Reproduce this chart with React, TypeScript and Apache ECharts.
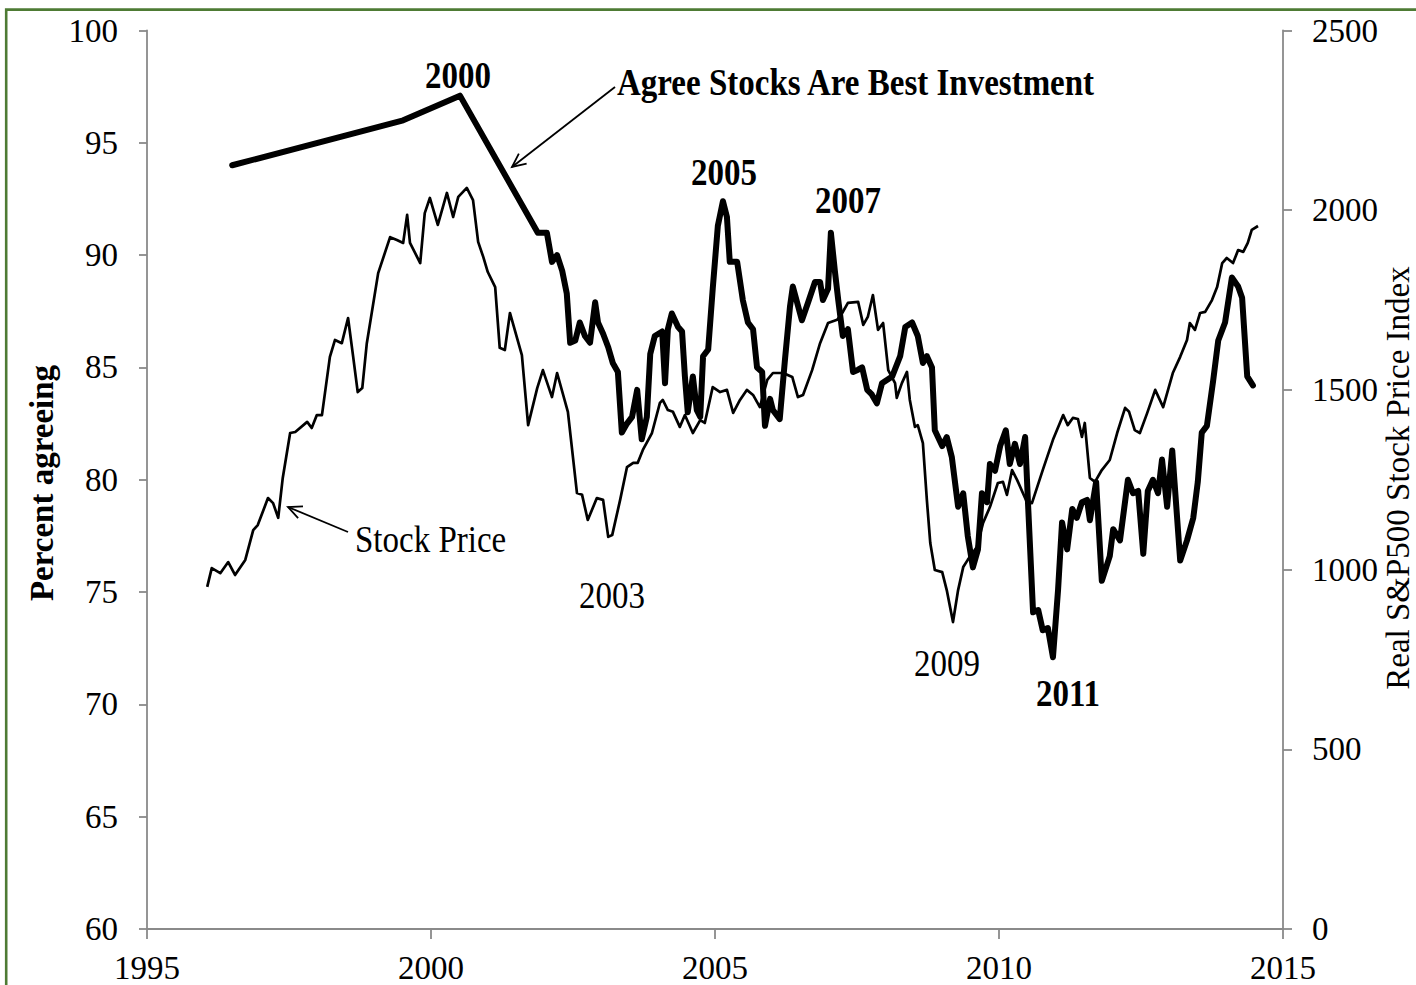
import React, { useEffect, useRef } from "react";
import * as echarts from "echarts";

// Survey: share agreeing that stocks are the best investment (left axis, %)
const agreeYears = [
  1996.5, 1999.51, 2000.51, 2001.88, 2002.04, 2002.13, 2002.22, 2002.31, 2002.39, 2002.45,
  2002.54, 2002.62, 2002.71, 2002.8, 2002.89, 2002.94, 2003.03, 2003.12, 2003.2, 2003.29,
  2003.36, 2003.45, 2003.54, 2003.63, 2003.71, 2003.8, 2003.86, 2003.94, 2004.07, 2004.12,
  2004.17, 2004.24, 2004.35, 2004.42, 2004.47, 2004.52, 2004.61, 2004.68, 2004.74, 2004.79,
  2004.88, 2004.96, 2005.05, 2005.14, 2005.21, 2005.26, 2005.39, 2005.49, 2005.58, 2005.67,
  2005.74, 2005.83, 2005.88, 2005.97, 2006.02, 2006.14, 2006.23, 2006.32, 2006.37, 2006.53,
  2006.64, 2006.76, 2006.85, 2006.9, 2006.99, 2007.04, 2007.11, 2007.17, 2007.25, 2007.34,
  2007.43, 2007.52, 2007.59, 2007.68, 2007.76, 2007.85, 2007.94, 2008.12, 2008.26, 2008.35,
  2008.47, 2008.57, 2008.66, 2008.73, 2008.82, 2008.87, 2009.0, 2009.08, 2009.17, 2009.28,
  2009.37, 2009.45, 2009.54, 2009.63, 2009.7, 2009.79, 2009.84, 2009.93, 2010.02, 2010.12,
  2010.19, 2010.28, 2010.37, 2010.46, 2010.51, 2010.6, 2010.69, 2010.77, 2010.86, 2010.95,
  2011.04, 2011.11, 2011.2, 2011.29, 2011.37, 2011.46, 2011.55, 2011.6, 2011.71, 2011.81,
  2011.95, 2012.01, 2012.13, 2012.27, 2012.36, 2012.45, 2012.54, 2012.62, 2012.71, 2012.8,
  2012.87, 2012.96, 2013.05, 2013.19, 2013.31, 2013.42, 2013.5, 2013.57, 2013.66, 2013.77,
  2013.86, 2013.98, 2014.1, 2014.21, 2014.28, 2014.37, 2014.47,
];
const agreeValues = [
  94.0, 96.0, 97.1, 91.0, 91.0, 89.7, 90.0, 89.3, 88.3, 86.1,
  86.2, 87.0, 86.4, 86.1, 87.9, 87.0, 86.5, 85.9, 85.2, 84.8,
  82.1, 82.5, 82.8, 84.0, 81.8, 82.8, 85.6, 86.4, 86.6, 84.3,
  86.7, 87.4, 86.8, 86.6, 84.6, 83.0, 84.6, 83.1, 82.8, 85.5,
  85.8, 88.5, 91.3, 92.4, 91.7, 89.7, 89.7, 88.0, 87.0, 86.7,
  85.0, 84.8, 82.4, 83.6, 83.1, 82.7, 85.3, 87.7, 88.6, 87.1,
  87.9, 88.8, 88.8, 88.0, 88.5, 91.0, 89.3, 88.0, 86.4, 86.7,
  84.8, 84.9, 85.0, 84.0, 83.8, 83.4, 84.3, 84.6, 85.5, 86.8,
  87.0, 86.4, 85.2, 85.5, 85.0, 82.2, 81.5, 81.9, 81.0, 78.8,
  79.4, 77.5, 76.1, 76.9, 79.4, 79.0, 80.7, 80.4, 81.5, 82.2,
  80.7, 81.6, 80.7, 81.9, 79.0, 74.1, 74.2, 73.3, 73.4, 72.1,
  75.1, 78.1, 76.9, 78.7, 78.3, 79.0, 79.1, 78.2, 79.9, 75.5,
  76.6, 77.8, 77.3, 80.0, 79.4, 79.5, 76.7, 79.5, 80.0, 79.4,
  80.9, 78.8, 81.3, 76.4, 77.3, 78.3, 79.9, 82.1, 82.4, 84.4,
  86.2, 87.0, 89.0, 88.6, 88.1, 84.6, 84.2,
];

// Real S&P500 stock price index (right axis)
const priceYears = [
  1996.06, 1996.14, 1996.29, 1996.43, 1996.55, 1996.73, 1996.87, 1996.95, 1997.13, 1997.22,
  1997.31, 1997.39, 1997.52, 1997.61, 1997.82, 1997.9, 1997.99, 1998.08, 1998.22, 1998.31,
  1998.43, 1998.54, 1998.63, 1998.71, 1998.79, 1998.87, 1999.07, 1999.28, 1999.4, 1999.51,
  1999.58, 1999.63, 1999.81, 1999.89, 1999.98, 2000.12, 2000.28, 2000.39, 2000.48, 2000.63,
  2000.74, 2000.83, 2000.92, 2001.0, 2001.13, 2001.21, 2001.3, 2001.39, 2001.6, 2001.71,
  2001.87, 2001.97, 2002.13, 2002.22, 2002.41, 2002.57, 2002.66, 2002.76, 2002.92, 2003.03,
  2003.12, 2003.19, 2003.33, 2003.45, 2003.56, 2003.64, 2003.73, 2003.89, 2004.03, 2004.08,
  2004.17, 2004.26, 2004.38, 2004.47, 2004.61, 2004.74, 2004.82, 2004.96, 2005.09, 2005.21,
  2005.32, 2005.44, 2005.56, 2005.67, 2005.79, 2005.92, 2006.02, 2006.2, 2006.36, 2006.46,
  2006.55, 2006.71, 2006.85, 2006.99, 2007.15, 2007.24, 2007.34, 2007.52, 2007.61, 2007.69,
  2007.78, 2007.87, 2007.96, 2008.05, 2008.17, 2008.2, 2008.29, 2008.38, 2008.43, 2008.52,
  2008.57, 2008.66, 2008.73, 2008.79, 2008.87, 2009.0, 2009.08, 2009.19, 2009.28, 2009.37,
  2009.45, 2009.61, 2009.72, 2009.84, 2009.98, 2010.07, 2010.14, 2010.23, 2010.32, 2010.49,
  2010.58, 2010.77, 2010.95, 2011.13, 2011.21, 2011.3, 2011.39, 2011.46, 2011.51, 2011.6,
  2011.69, 2011.81, 2011.95, 2012.08, 2012.22, 2012.29, 2012.39, 2012.48, 2012.61, 2012.75,
  2012.89, 2013.06, 2013.19, 2013.31, 2013.36, 2013.45, 2013.54, 2013.63, 2013.75, 2013.84,
  2013.93, 2014.01, 2014.12, 2014.21, 2014.3, 2014.38, 2014.45, 2014.56,
];
const priceValues = [
  952, 1004, 990, 1021, 985, 1027, 1110, 1124, 1199, 1185,
  1144, 1255, 1380, 1383, 1411, 1394, 1430, 1430, 1592, 1639,
  1630, 1700, 1592, 1494, 1505, 1630, 1825, 1925, 1917, 1909,
  1987, 1909, 1853, 1992, 2034, 1959, 2048, 1981, 2037, 2062,
  2028, 1912, 1870, 1828, 1786, 1617, 1611, 1714, 1597, 1402,
  1505, 1555, 1480, 1547, 1439, 1213, 1208, 1138, 1199, 1194,
  1091, 1096, 1194, 1285, 1297, 1297, 1333, 1380, 1464, 1472,
  1444, 1439, 1397, 1430, 1380, 1416, 1408, 1508, 1494, 1500,
  1436, 1472, 1500, 1486, 1452, 1528, 1547, 1547, 1536, 1480,
  1486, 1555, 1630, 1686, 1695, 1714, 1742, 1745, 1681, 1703,
  1764, 1667, 1686, 1555, 1519, 1478, 1519, 1550, 1472, 1397,
  1402, 1352, 1194, 1074, 999, 993, 943, 854, 943, 1007,
  1027, 1063, 1130, 1174, 1241, 1244, 1208, 1277, 1249, 1188,
  1185, 1277, 1361, 1430, 1402, 1422, 1419, 1369, 1408, 1255,
  1244, 1277, 1305, 1380, 1450, 1439, 1388, 1380, 1436, 1500,
  1452, 1547, 1592, 1639, 1686, 1667, 1714, 1717, 1750, 1786,
  1853, 1867, 1853, 1889, 1884, 1909, 1945, 1956,
];

const leftAxisTitle = "Percent agreeing";
const rightAxisTitle = "Real S&P500 Stock Price Index";

const SERIF = '"Liberation Serif", "Times New Roman", Times, serif';
const AXIS_GRAY = "#8a8a8a";
const STRETCH = 1.17;

function label(text: string, x: number, y: number, bold: boolean, align = "center") {
  return {
    type: "text",
    x,
    y,
    scaleY: STRETCH,
    z: 100,
    silent: true,
    style: {
      text,
      fontSize: 33,
      fontFamily: SERIF,
      fontWeight: bold ? "bold" : "normal",
      fill: "#000",
      align,
      verticalAlign: "middle",
      textAlign: align,
      textVerticalAlign: "middle",
    },
  };
}

function arrow(tip: number[], tail: number[]) {
  const dx = tail[0] - tip[0];
  const dy = tail[1] - tip[1];
  const len = Math.hypot(dx, dy);
  const ux = dx / len;
  const uy = dy / len;
  const a = (25 * Math.PI) / 180;
  const h = 15;
  const c = Math.cos(a);
  const s = Math.sin(a);
  const p1 = [tip[0] + h * (ux * c - uy * s), tip[1] + h * (ux * s + uy * c)];
  const p2 = [tip[0] + h * (ux * c + uy * s), tip[1] + h * (-ux * s + uy * c)];
  return [
    {
      type: "line",
      z: 100,
      silent: true,
      shape: { x1: tail[0], y1: tail[1], x2: tip[0], y2: tip[1] },
      style: { stroke: "#000", lineWidth: 1.8 },
    },
    {
      type: "polyline",
      z: 100,
      silent: true,
      shape: { points: [p1, tip, p2] },
      style: { stroke: "#000", lineWidth: 1.8, fill: "none" },
    },
  ];
}

export default function App() {
  const ref = useRef<HTMLDivElement>(null);

  useEffect(() => {
    document.body.style.margin = "0";
    document.body.style.overflow = "hidden";
    if (!ref.current) return;
    const chart = echarts.init(ref.current, null, { renderer: "svg" });

    const agreeData = agreeYears.map((y, i) => [y, agreeValues[i]]);
    const priceData = priceYears.map((y, i) => [y, priceValues[i]]);

    const axisCommon = {
      axisLine: { show: true, onZero: false, lineStyle: { color: AXIS_GRAY, width: 1.8 } },
      splitLine: { show: false },
    };

    chart.setOption({
      animation: false,
      backgroundColor: "#ffffff",
      grid: { left: 147, right: 133, top: 30.5, bottom: 56, containLabel: false },
      xAxis: {
        type: "value",
        min: 1995,
        max: 2015,
        interval: 5,
        ...axisCommon,
        axisTick: { show: true, length: 10, lineStyle: { color: AXIS_GRAY, width: 1.8 } },
        axisLabel: {
          color: "#000",
          fontSize: 33,
          fontFamily: SERIF,
          margin: 22,
          formatter: (v: number) => String(v),
        },
      },
      yAxis: [
        {
          type: "value",
          position: "left",
          min: 60,
          max: 100,
          interval: 5,
          ...axisCommon,
          axisTick: { show: true, length: 8, lineStyle: { color: AXIS_GRAY, width: 1.8 } },
          axisLabel: {
            color: "#000",
            fontSize: 33,
            fontFamily: SERIF,
            margin: 29,
            formatter: (v: number) => String(v),
          },
        },
        {
          type: "value",
          position: "right",
          min: 0,
          max: 2500,
          interval: 500,
          ...axisCommon,
          axisTick: { show: true, length: 9, lineStyle: { color: AXIS_GRAY, width: 1.8 } },
          axisLabel: {
            color: "#000",
            fontSize: 33,
            fontFamily: SERIF,
            margin: 29,
            formatter: (v: number) => String(v),
          },
        },
      ],
      series: [
        {
          name: "Stock Price",
          type: "line",
          yAxisIndex: 1,
          data: priceData,
          symbol: "none",
          showSymbol: false,
          z: 2,
          lineStyle: { color: "#000", width: 2.7, join: "round" },
        },
        {
          name: "Agree Stocks Are Best Investment",
          type: "line",
          yAxisIndex: 0,
          data: agreeData,
          symbol: "none",
          showSymbol: false,
          z: 3,
          lineStyle: { color: "#000", width: 6, join: "round", cap: "round" },
        },
      ],
      graphic: [
        {
          type: "rect",
          silent: true,
          z: 200,
          shape: { x: 6.2, y: 9.6, width: 1440, height: 1000 },
          style: { fill: "none", stroke: "#4e7b34", lineWidth: 2.6 },
        },
        {
          type: "text",
          x: 42,
          y: 483,
          rotation: Math.PI / 2,
          z: 100,
          silent: true,
          style: {
            text: leftAxisTitle,
            fontSize: 33,
            fontFamily: SERIF,
            fontWeight: "bold",
            fill: "#000",
            align: "center",
            verticalAlign: "middle",
            textAlign: "center",
            textVerticalAlign: "middle",
          },
        },
        {
          type: "text",
          x: 1398,
          y: 478,
          rotation: Math.PI / 2,
          z: 100,
          silent: true,
          style: {
            text: rightAxisTitle,
            fontSize: 33,
            fontFamily: SERIF,
            fill: "#000",
            align: "center",
            verticalAlign: "middle",
            textAlign: "center",
            textVerticalAlign: "middle",
          },
        },
        label("2000", 458, 75, true),
        label("Agree Stocks Are Best Investment", 617, 82, true, "left"),
        label("2005", 724, 172, true),
        label("2007", 848, 200, true),
        label("Stock Price", 355, 539, false, "left"),
        label("2003", 612, 595, false),
        label("2009", 947, 663, false),
        label("2011", 1068, 693, true),
        ...arrow([512, 167], [615, 87]),
        ...arrow([288, 507], [348, 532]),
      ],
    });

    return () => {
      chart.dispose();
    };
  }, []);

  return <div ref={ref} style={{ width: 1416, height: 985 }} />;
}
